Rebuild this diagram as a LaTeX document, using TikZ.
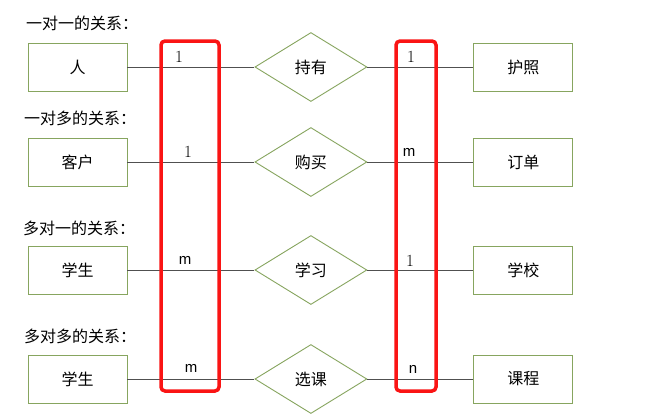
\documentclass[tikz,border=0pt]{standalone}
\usepackage{fontspec}
\setsansfont{Liberation Sans}
\newfontfamily\cjk{Noto Sans CJK SC}
\usetikzlibrary{positioning, shapes.geometric}
\definecolor{boxgreen}{RGB}{135,165,95}
\definecolor{linegray}{RGB}{80,80,80}
\definecolor{hlred}{RGB}{250,20,20}

\begin{document}
\begin{tikzpicture}[
        x=1pt, y=-1pt,
        entity/.style={draw=boxgreen, line width=0.9pt, minimum width=99pt, minimum height=48pt, inner sep=0pt, font=\cjk\fontsize{16}{19}\selectfont},
        relation/.style={diamond, draw=boxgreen, line width=0.9pt, minimum width=112pt, minimum height=69pt, inner sep=0pt, font=\cjk\fontsize{16}{19}\selectfont},
        heading/.style={anchor=west, inner sep=0pt, font=\cjk\fontsize{16}{19}\selectfont},
        card/.style={inner sep=0pt, font=\fontsize{17}{19}\selectfont},
        cardsf/.style={card, font=\sffamily\fontsize{15}{17}\selectfont},
        line/.style={draw=linegray, line width=0.8pt},
        highlight/.style={draw=hlred, line width=3.5pt, rounded corners=4pt, minimum height=350pt, inner sep=0pt}
    ]
        \useasboundingbox[fill=white] (0,0) rectangle (659,416);

        % one to one
        \node[heading] (h1) at (26,23) {一对一的关系：};
        \node[entity] (ren) at (77.5,67) {人};
        \node[relation, right=127pt of ren] (chiyou) {持有};
        \node[entity, right=106pt of chiyou] (huzhao) {护照};
        \draw[line] (ren) -- (chiyou);
        \draw[line] (chiyou) -- (huzhao);
        \node[card] (c1l) at (179,57) {1};
        \node[card] (c1r) at (411,57) {1};

        % one to many
        \node[heading] (h2) at (24,118) {一对多的关系：};
        \node[entity] (kehu) at (77.5,162) {客户};
        \node[relation, right=127pt of kehu] (goumai) {购买};
        \node[entity, right=106pt of goumai] (dingdan) {订单};
        \draw[line] (kehu) -- (goumai);
        \draw[line] (goumai) -- (dingdan);
        \node[card] (c2l) at (188,152) {1};
        \node[cardsf] (c2r) at (409,152) {m};

        % many to one
        \node[heading] (h3) at (23,228) {多对一的关系：};
        \node[entity] (xuesheng1) at (77.5,270) {学生};
        \node[relation, right=127pt of xuesheng1] (xuexi) {学习};
        \node[entity, right=106pt of xuexi] (xuexiao) {学校};
        \draw[line] (xuesheng1) -- (xuexi);
        \draw[line] (xuexi) -- (xuexiao);
        \node[cardsf] (c3l) at (185,260) {m};
        \node[card] (c3r) at (410,261) {1};

        % many to many
        \node[heading] (h4) at (24,336) {多对多的关系：};
        \node[entity] (xuesheng2) at (77.5,379) {学生};
        \node[relation, right=127pt of xuesheng2] (xuanke) {选课};
        \node[entity, right=106pt of xuanke] (kecheng) {课程};
        \draw[line] (xuesheng2) -- (xuanke);
        \draw[line] (xuanke) -- (kecheng);
        \node[cardsf] (c4l) at (191,368) {m};
        \node[cardsf] (c4r) at (413,369) {n};

        % highlights
        \node[highlight, minimum width=58pt] (hlleft) at (190,216) {};
        \node[highlight, minimum width=40pt] (hlright) at (416,216) {};
    \end{tikzpicture}
\end{document}
